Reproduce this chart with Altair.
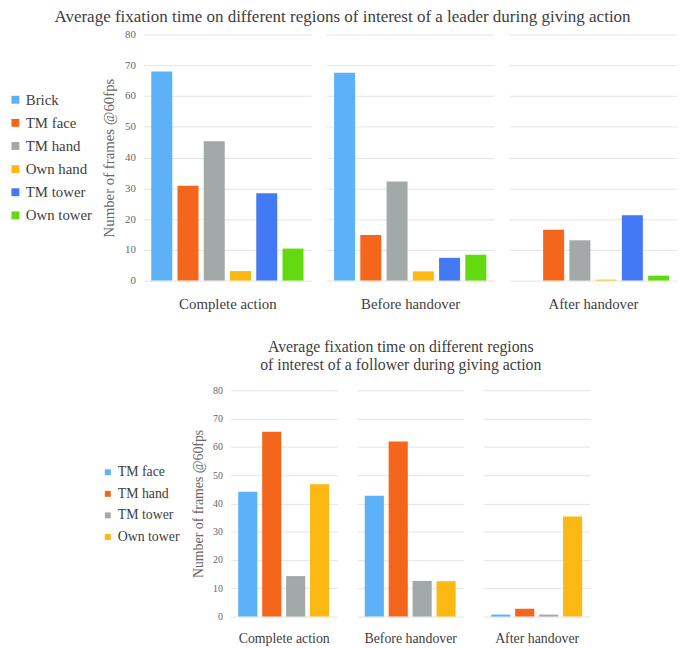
import altair as alt
import pandas as pd

phases = ["Complete action", "Before handover", "After handover"]
y_ticks = [0, 10, 20, 30, 40, 50, 60, 70, 80]

leader_regions = ["Brick", "TM face", "TM hand", "Own hand", "TM tower", "Own tower"]
leader_colors = ["#5DB1F7", "#F4661B", "#A3A9A8", "#FDB913", "#4479F5", "#62DA0F"]
leader_complete = [68.0, 30.8, 45.3, 3.1, 28.4, 10.4]
leader_before = [67.6, 14.8, 32.2, 3.0, 7.4, 8.4]
leader_after = [0.0, 16.5, 13.1, 0.3, 21.2, 1.6]

follower_regions = ["TM face", "TM hand", "TM tower", "Own tower"]
follower_colors = ["#5DB1F7", "#F4661B", "#A3A9A8", "#FDB913"]
follower_complete = [44.1, 65.3, 14.3, 46.8]
follower_before = [42.7, 61.9, 12.6, 12.5]
follower_after = [0.7, 2.8, 0.7, 35.4]

FONT = "Liberation Serif"


def panel(values, regions, colors, phase, first, w, h, s, legend):
    df = pd.DataFrame({"region": regions, "value": values})
    yaxis = alt.Axis(
        values=y_ticks, grid=True, gridColor="#E4E4E4", gridWidth=1,
        domain=False, ticks=False, labels=first, labelPadding=s["lp"],
        labelColor="#666666", labelFontSize=s["tick"], labelFont=FONT,
        title="Number of frames @60fps" if first else None,
        titleFontSize=s["ytitle"], titleFont=FONT, titleFontWeight="normal",
        titleColor="#666666", titlePadding=s["tp"],
    )
    xaxis = alt.Axis(
        labels=False, ticks=False, domain=False, title=phase,
        titleFontSize=s["xtitle"], titleFont=FONT, titleFontWeight="normal",
        titleColor="#404040", titlePadding=s["xtp"],
    )
    return alt.Chart(df).mark_bar().encode(
        x=alt.X("region:N", sort=regions,
                scale=alt.Scale(domain=regions, paddingInner=0.2, paddingOuter=s["po"]),
                axis=xaxis),
        y=alt.Y("value:Q", scale=alt.Scale(domain=[0, 80], nice=False), axis=yaxis),
        color=alt.Color("region:N", sort=regions,
                        scale=alt.Scale(domain=regions, range=colors),
                        legend=legend),
    ).properties(width=w, height=h)


top_style = dict(lp=8, tick=11, ytitle=15, tp=8, xtitle=15, xtp=16, po=0.3)
bot_style = dict(lp=8, tick=10, ytitle=14, tp=7, xtitle=14, xtp=15, po=0.33)

# blank legend title only reserves vertical room above the legend entries
top_legend = alt.Legend(
    title=" ", titleFontSize=1, titlePadding=57.5,
    orient="left", offset=9, padding=0,
    symbolType="square", symbolSize=64, symbolStrokeWidth=0,
    labelFont=FONT, labelFontSize=15, labelColor="#404040",
    rowPadding=7.4, labelOffset=3,
)
bot_legend = alt.Legend(
    title=" ", titleFontSize=1, titlePadding=75,
    orient="left", offset=12, padding=0,
    symbolType="square", symbolSize=36, symbolStrokeWidth=0,
    labelFont=FONT, labelFontSize=14, labelColor="#404040",
    rowPadding=7.8, labelOffset=3,
)

top = alt.hconcat(
    panel(leader_complete, leader_regions, leader_colors, phases[0], True, 170, 249, top_style, top_legend),
    panel(leader_before, leader_regions, leader_colors, phases[1], False, 170, 249, top_style, top_legend),
    panel(leader_after, leader_regions, leader_colors, phases[2], False, 170, 249, top_style, top_legend),
    spacing=15,
).properties(
    title=alt.TitleParams(
        "Average fixation time on different regions of interest of a leader during giving action",
        font=FONT, fontSize=17.2, fontWeight="normal", color="#404040",
        anchor="middle", offset=3,
    )
)

bottom = alt.hconcat(
    panel(follower_complete, follower_regions, follower_colors, phases[0], True, 108, 229, bot_style, bot_legend),
    panel(follower_before, follower_regions, follower_colors, phases[1], False, 108, 229, bot_style, bot_legend),
    panel(follower_after, follower_regions, follower_colors, phases[2], False, 108, 229, bot_style, bot_legend),
    spacing=20,
).properties(
    title=alt.TitleParams(
        ["Average fixation time on different regions",
         "of interest of a follower during giving action"],
        font=FONT, fontSize=16, fontWeight="normal", color="#404040",
        anchor="middle", offset=12, lineHeight=19, dx=56,
    )
)

chart = (
    alt.vconcat(top, bottom, spacing=28, center=True)
    .resolve_scale(color="independent")
    .properties(padding={"left": 0, "top": -4, "right": 0, "bottom": 0})
    .configure(font=FONT)
    .configure_view(stroke=None)
    .configure_axis(labelFont=FONT, titleFont=FONT)
    .configure_legend(labelFont=FONT)
    .configure_title(font=FONT)
)

chart.save("out.html", embed_options={"renderer": "svg", "actions": False})
